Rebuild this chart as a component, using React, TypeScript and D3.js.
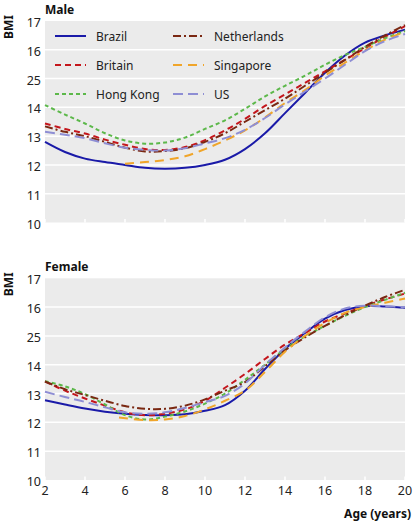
import React from "react";
import * as d3 from "d3";

const ages = [2, 3, 4, 5, 6, 7, 8, 9, 10, 11, 12, 13, 14, 15, 16, 17, 18, 19, 20];
const singaporeMaleAges = [6, 7, 8, 9, 10, 11, 12, 13, 14, 15, 16, 17, 18, 19, 20];
const singaporeFemaleAges = [5.7, 7, 8, 9, 10, 11, 12, 13, 14, 15, 16, 17, 18, 19, 20];

// Male BMI
const brazilMale = [12.8, 12.45, 12.22, 12.1, 12.0, 11.9, 11.87, 11.9, 12.0, 12.18, 12.55, 13.1, 13.8, 14.5, 15.2, 15.8, 16.25, 16.5, 16.7];
const britainMale = [13.44, 13.25, 13.09, 12.88, 12.7, 12.55, 12.52, 12.62, 12.86, 13.2, 13.6, 14.05, 14.45, 14.85, 15.25, 15.65, 16.05, 16.45, 16.82];
const hongKongMale = [14.08, 13.75, 13.44, 13.1, 12.85, 12.74, 12.78, 12.95, 13.25, 13.55, 13.95, 14.38, 14.75, 15.1, 15.48, 15.82, 16.1, 16.4, 16.65];
const netherlandsMale = [13.34, 13.15, 13.0, 12.8, 12.6, 12.47, 12.48, 12.58, 12.8, 13.1, 13.5, 13.9, 14.3, 14.75, 15.2, 15.65, 16.1, 16.5, 16.86];
const singaporeMale = [12.04, 12.1, 12.17, 12.3, 12.55, 12.85, 13.2, 13.65, 14.15, 14.6, 15.1, 15.55, 15.98, 16.35, 16.62];
const usMale = [13.15, 13.05, 12.93, 12.75, 12.6, 12.52, 12.5, 12.58, 12.75, 12.93, 13.22, 13.63, 14.1, 14.55, 15.0, 15.48, 15.95, 16.3, 16.55];

// Female BMI
const brazilFemale = [12.77, 12.62, 12.48, 12.37, 12.3, 12.26, 12.25, 12.28, 12.4, 12.6, 13.1, 13.85, 14.55, 15.1, 15.6, 15.9, 16.03, 16.02, 15.98];
const britainFemale = [13.42, 13.1, 12.83, 12.58, 12.35, 12.25, 12.3, 12.45, 12.75, 13.2, 13.68, 14.2, 14.7, 15.1, 15.5, 15.78, 16.04, 16.27, 16.47];
const hongKongFemale = [13.43, 13.25, 12.98, 12.62, 12.25, 12.1, 12.2, 12.38, 12.65, 13.0, 13.48, 14.0, 14.55, 14.98, 15.35, 15.7, 16.0, 16.25, 16.5];
const netherlandsFemale = [13.42, 13.15, 12.95, 12.75, 12.57, 12.47, 12.47, 12.58, 12.8, 13.1, 13.4, 13.95, 14.5, 14.95, 15.35, 15.72, 16.05, 16.35, 16.6];
const singaporeFemale = [12.17, 12.08, 12.1, 12.22, 12.45, 12.75, 13.1, 13.75, 14.45, 15.0, 15.45, 15.8, 16.0, 16.15, 16.3];
const usFemale = [13.06, 12.88, 12.71, 12.52, 12.35, 12.3, 12.35, 12.5, 12.7, 12.92, 13.35, 14.0, 14.6, 15.15, 15.65, 15.95, 16.05, 16.03, 16.0];

const yTickValues = [10, 11, 12, 13, 14, 15, 16, 17];
const yTickLabels = ["10", "11", "12", "13", "25", "14", "16", "17"].map((s, i) => s);
const yTickText = ["10", "11", "12", "13", "14", "25", "16", "17"];
const xTickValues = [2, 4, 6, 8, 10, 12, 14, 16, 18, 20];

const seriesNames = ["Brazil", "Britain", "Hong Kong", "Netherlands", "Singapore", "US"];
const seriesColors = ["#1a1aa8", "#c4161c", "#5cb84a", "#7a2812", "#f0a52a", "#8e8ed4"];
const seriesDash = ["", "6,4", "4,3", "8,3,2,3", "9,6", "10,5"];

const FONT = "'Noto Sans', sans-serif";

const x = d3.scaleLinear().domain([2, 20]).range([45, 405]);

type Panel = {
  title: string;
  top: number;
  bottom: number;
  data: { ages: number[]; values: number[] }[];
  legend: boolean;
};

const panels: Panel[] = [
  {
    title: "Male",
    top: 21,
    bottom: 222.5,
    legend: true,
    data: [
      { ages, values: brazilMale },
      { ages, values: britainMale },
      { ages, values: hongKongMale },
      { ages, values: netherlandsMale },
      { ages: singaporeMaleAges, values: singaporeMale },
      { ages, values: usMale },
    ],
  },
  {
    title: "Female",
    top: 278.3,
    bottom: 480,
    legend: false,
    data: [
      { ages, values: brazilFemale },
      { ages, values: britainFemale },
      { ages, values: hongKongFemale },
      { ages, values: netherlandsFemale },
      { ages: singaporeFemaleAges, values: singaporeFemale },
      { ages, values: usFemale },
    ],
  },
];

function PanelView({ p }: { p: Panel }) {
  const y = d3.scaleLinear().domain([10, 17]).range([p.bottom, p.top]);
  const line = d3
    .line<[number, number]>()
    .x((d) => x(d[0]))
    .y((d) => y(d[1]))
    .curve(d3.curveCatmullRom.alpha(0.5));
  const [x0, x1] = x.range();
  const midY = p.top + 6;
  return (
    <g>
      <rect x={x0} y={p.top} width={x1 - x0} height={p.bottom - p.top} fill="#ebebeb" />
      {yTickValues.map((v) =>
        v === 10 || v === 17 ? null : (
          <line key={v} x1={x0} x2={x1} y1={y(v)} y2={y(v)} stroke="#fff" strokeWidth={1.5} />
        )
      )}
      {xTickValues.map((a) => (
        <line key={a} x1={x(a)} x2={x(a)} y1={p.bottom} y2={p.bottom - 3.5} stroke="#fff" strokeWidth={1.5} />
      ))}
      {yTickValues.map((v, i) => (
        <text
          key={v}
          x={41}
          y={y(v) + 1.5}
          textAnchor="end"
          dominantBaseline="central"
          fontFamily={FONT}
          fontSize={12.5}
          fill="#222"
        >
          {yTickText[i]}
        </text>
      ))}
      <text x={45} y={p.top - 7} fontFamily={FONT} fontWeight="bold" fontSize={12} fill="#111">
        {p.title}
      </text>
      <text
        transform={`translate(13,${midY}) rotate(-90)`}
        textAnchor="middle"
        fontFamily={FONT}
        fontWeight="bold"
        fontSize={12}
        fill="#111"
      >
        BMI
      </text>
      {p.data.map((s, i) => (
        <path
          key={i}
          d={line(s.ages.map((a, j) => [a, s.values[j]] as [number, number])) || ""}
          fill="none"
          stroke={seriesColors[i]}
          strokeWidth={2}
          strokeDasharray={seriesDash[i]}
        />
      ))}
      {p.legend &&
        seriesNames.map((name, i) => {
          const col = Math.floor(i / 3);
          const row = i % 3;
          const lx = col === 0 ? 55 : 173;
          const ly = 36 + row * 29;
          return (
            <g key={name}>
              <line x1={lx} x2={lx + 31} y1={ly} y2={ly} stroke={seriesColors[i]} strokeWidth={2} strokeDasharray={seriesDash[i]} />
              <text x={lx + 41} y={ly} dominantBaseline="central" fontFamily={FONT} fontSize={12} fill="#222">
                {name}
              </text>
            </g>
          );
        })}
    </g>
  );
}

export default function App() {
  const bottomY = panels[1].bottom;
  return (
    <svg width={414} height={522} style={{ position: "absolute", left: 0, top: 0, background: "#fff" }}>
      {panels.map((p) => (
        <PanelView key={p.title} p={p} />
      ))}
      {xTickValues.map((a) => (
        <text key={a} x={x(a)} y={bottomY + 15} textAnchor="middle" fontFamily={FONT} fontSize={12.5} fill="#222">
          {a}
        </text>
      ))}
      <text x={411} y={518} textAnchor="end" fontFamily={FONT} fontWeight="bold" fontSize={12} fill="#111">
        Age (years)
      </text>
    </svg>
  );
}
